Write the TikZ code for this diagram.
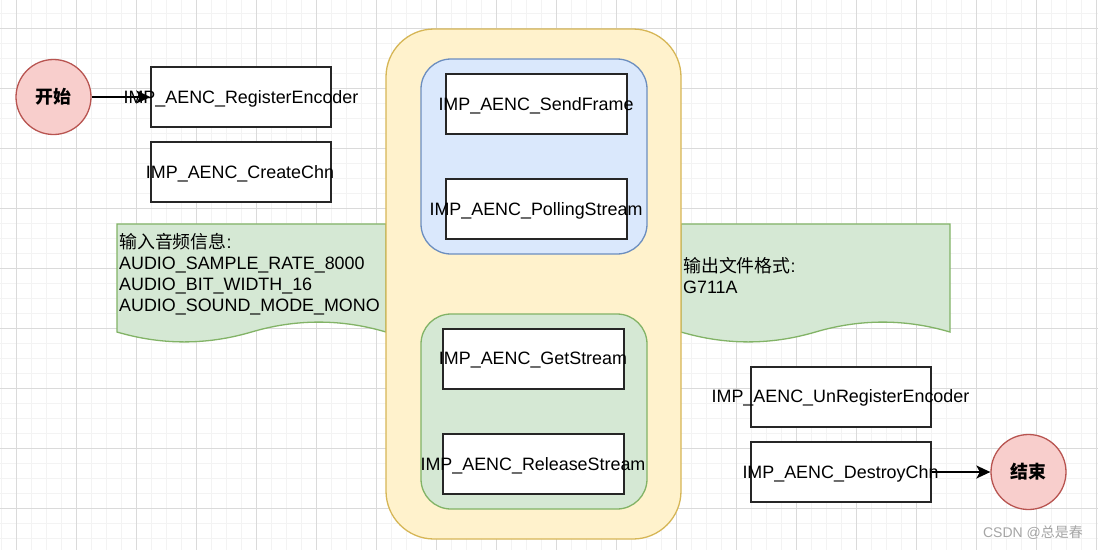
\documentclass[tikz,border=0pt]{standalone}
\usepackage{fontspec}
\setmainfont{Liberation Sans}
\newfontfamily\cjk{Noto Sans CJK SC}
\usetikzlibrary{arrows.meta,shapes.geometric}
\definecolor{majorgrid}{RGB}{218,218,218}
\definecolor{minorgrid}{RGB}{243,243,243}
\definecolor{redfill}{HTML}{F8CECC}
\definecolor{redline}{HTML}{B85450}
\definecolor{yelfill}{HTML}{FFF2CC}
\definecolor{yelline}{HTML}{D6B656}
\definecolor{bluefill}{HTML}{DAE8FC}
\definecolor{blueline}{HTML}{6C8EBF}
\definecolor{grnfill}{HTML}{D5E8D4}
\definecolor{grnline}{HTML}{82B366}
\definecolor{wmgray}{RGB}{165,165,165}
\tikzset{
  mainfont/.style={font=\fontsize{17.9}{21}\selectfont},
  apibox/.style={draw=black!85, line width=1.5pt, fill=white, minimum width=180pt, minimum height=60pt, inner sep=0pt},
  apilabel/.style={mainfont, inner sep=0pt},
  container/.style={line width=1.3pt, inner sep=0pt},
  termcircle/.style={circle, draw=redline, fill=redfill, line width=1.3pt, minimum size=75pt, inner sep=0pt, font=\fontsize{17.9}{21}\selectfont\cjk\bfseries},
  docshape/.style={draw=grnline, fill=grnfill, line width=1.3pt},
  flowarrow/.style={draw=black, line width=1.8pt, -{Stealth[length=14pt,width=13pt,inset=3.5pt]}},
  doctext/.style={mainfont, align=left, anchor=west, inner sep=0pt},
}
\begin{document}
\begin{tikzpicture}[x=1pt,y=-1pt]
% background and bounding box
\fill[white] (0,0) rectangle (1098,550);
\useasboundingbox (0,0) rectangle (1098,550);
% grid
\foreach \i in {0,...,73} \draw[minorgrid, line width=1pt] ({1.7+15*\i},0) -- ({1.7+15*\i},550);
\foreach \i in {0,...,36} \draw[minorgrid, line width=1pt] (0,{13.3+15*\i}) -- (1098,{13.3+15*\i});
\foreach \i in {0,...,18} \draw[majorgrid, line width=1pt] ({16.7+60*\i},0) -- ({16.7+60*\i},550);
\foreach \i in {0,...,8} \draw[majorgrid, line width=1pt] (0,{28.3+60*\i}) -- (1098,{28.3+60*\i});

% document shapes
\draw[docshape] (117,224) -- (386,224) -- (386,332)
  .. controls (341.2,318.8) and (296.3,318.8) .. (251.5,332)
  .. controls (206.7,345.2) and (161.8,345.2) .. (117,332) -- cycle;
\draw[docshape] (681,224) -- (950,224) -- (950,332)
  .. controls (905.2,318.8) and (860.3,318.8) .. (815.5,332)
  .. controls (770.7,345.2) and (725.8,345.2) .. (681,332) -- cycle;
\node[doctext] (intext) at (119,274) {{\cjk 输入音频信息}:\\AUDIO\_SAMPLE\_RATE\_8000\\AUDIO\_BIT\_WIDTH\_16\\AUDIO\_SOUND\_MODE\_MONO};
\node[doctext] (outtext) at (683,275) {{\cjk 输出文件格式}:\\G711A};

% containers
\node[container, draw=yelline, fill=yelfill, rounded corners=48pt, minimum width=295pt, minimum height=510pt] (loop) at (533.5,284) {};
\node[container, draw=blueline, fill=bluefill, rounded corners=30pt, minimum width=226pt, minimum height=195pt] (sendgrp) at (534,156.5) {};
\node[container, draw=grnline, fill=grnfill, rounded corners=30pt, minimum width=226pt, minimum height=195pt] (getgrp) at (534,411.5) {};

% boxes
\node[apibox] (reg) at (241,97) {};
\node[apibox] (create) at (241,172) {};
\node[apibox, minimum width=181pt] (send) at (536.5,104) {};
\node[apibox, minimum width=181pt] (poll) at (536.5,209) {};
\node[apibox, minimum width=181pt] (get) at (533.5,359) {};
\node[apibox, minimum width=181pt] (release) at (533.5,464) {};
\node[apibox] (unreg) at (841,397) {};
\node[apibox] (destroy) at (841,472) {};

% labels
\node[apilabel] (regl) at (241,98.5) {IMP\_AENC\_RegisterEncoder};
\node[apilabel] (createl) at (240,173.5) {IMP\_AENC\_CreateChn};
\node[apilabel] (sendl) at (536,105.5) {IMP\_AENC\_SendFrame};
\node[apilabel] (polll) at (536,210.5) {IMP\_AENC\_PollingStream};
\node[apilabel] (getl) at (533,360.5) {IMP\_AENC\_GetStream};
\node[apilabel] (releasel) at (533,465.5) {IMP\_AENC\_ReleaseStream};
\node[apilabel] (unregl) at (840.5,397.5) {IMP\_AENC\_UnRegisterEncoder};
\node[apilabel] (destroyl) at (840.5,473.5) {IMP\_AENC\_DestroyChn};

% terminals
\node[termcircle] (start) at (53.5,97) {开始};
\node[termcircle] (end) at (1028.5,472) {结束};

% arrows
\draw[flowarrow] (start.east) -- (reg.west);
\draw[flowarrow] (destroy.east) -- (end.west);

% watermark
\node[text=wmgray, font=\fontsize{14}{16}\selectfont, inner sep=0pt] (wm) at (1033,533) {CSDN @{\cjk 总是春}};
\end{tikzpicture}
\end{document}
